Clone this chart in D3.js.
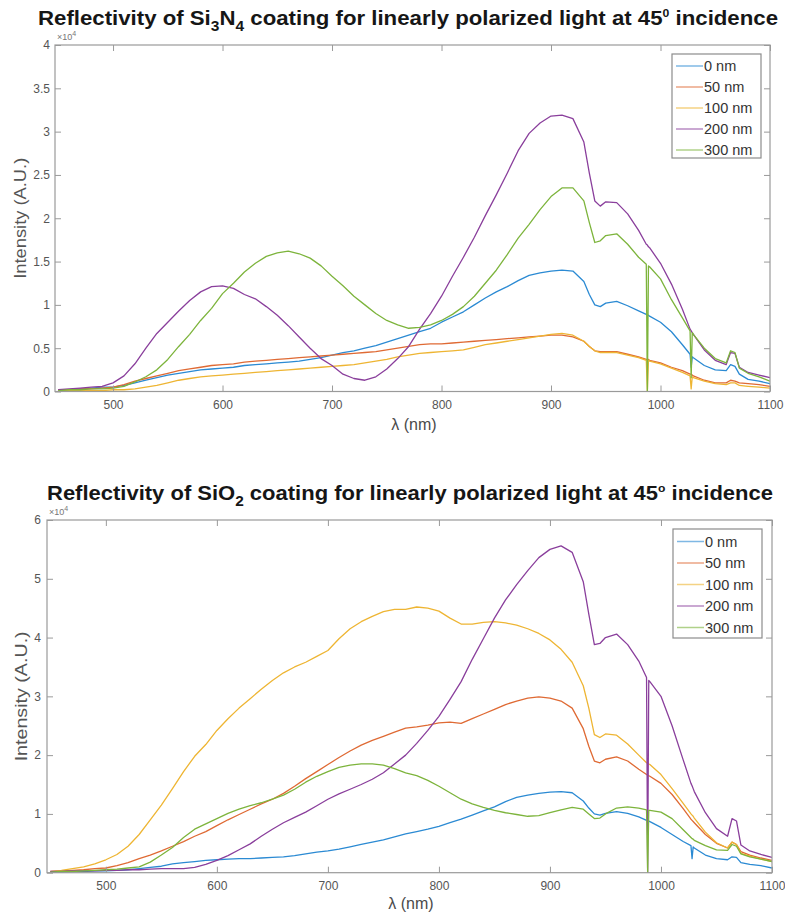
<!DOCTYPE html>
<html><head><meta charset="utf-8">
<script src="https://cdn.jsdelivr.net/npm/d3@7"></script>
<style>body{margin:0;background:#fff;} svg{display:block;font-family:"Liberation Sans",Arial,Helvetica,sans-serif;}</style>
</head><body><svg id="c" width="785" height="922"></svg>
<script>
// ---------- DATA ----------
// shared wavelength grid (nm)
const wavelengths = d3.range(450, 931, 10).concat([935,940,945,950,960,970,980,987,988,989,990,1000,1010,1020,1027,1028,1029,1030,1040,1050,1060,1064,1068,1072,1080,1090,1100]);
const legendLabels = ["0 nm", "50 nm", "100 nm", "200 nm", "300 nm"];
const lineColors = ["#2b8ad3", "#df6a34", "#eeb533", "#8a3f9c", "#7db43c"];
const xTicks = [500, 600, 700, 800, 900, 1000, 1100];
const yTicksTop = [0, 0.5, 1, 1.5, 2, 2.5, 3, 3.5, 4];
const yTicksBottom = [0, 1, 2, 3, 4, 5, 6];

// Si3N4 panel (x10^4)
const si3n4_0nm = [0.02,0.02,0.03,0.04,0.05,0.05,0.07,0.10,0.13,0.16,
 0.19,0.21,0.23,0.25,0.26,0.27,0.28,0.30,0.31,0.32,
 0.33,0.34,0.35,0.37,0.39,0.42,0.45,0.47,0.50,0.53,
 0.57,0.61,0.65,0.69,0.73,0.80,0.86,0.92,1.00,1.08,
 1.15,1.21,1.28,1.34,1.37,1.39,1.40,1.39,1.27,
 1.12,1.00,0.98,1.02,1.04,0.99,0.93,0.89,0.88,0.88,0.87,0.80,0.69,0.54,0.43,0.28,0.40,0.39,0.30,0.25,0.24,0.31,0.29,0.20,0.14,0.12,0.09];
const si3n4_50nm = [0.02,0.02,0.03,0.03,0.04,0.05,0.08,0.12,0.15,0.18,
 0.21,0.24,0.26,0.28,0.30,0.31,0.32,0.34,0.35,0.36,
 0.37,0.38,0.39,0.40,0.41,0.42,0.43,0.44,0.45,0.46,
 0.48,0.50,0.52,0.54,0.55,0.55,0.56,0.57,0.58,0.59,
 0.60,0.61,0.62,0.63,0.64,0.65,0.65,0.63,0.58,
 0.52,0.47,0.46,0.46,0.46,0.43,0.40,0.37,0.37,0.37,0.36,0.33,0.28,0.24,0.20,0.20,0.19,0.18,0.13,0.10,0.10,0.13,0.12,0.10,0.09,0.08,0.06];
const si3n4_100nm = [0.01,0.01,0.01,0.01,0.01,0.02,0.02,0.03,0.05,0.07,
 0.10,0.13,0.15,0.17,0.18,0.19,0.20,0.21,0.22,0.23,
 0.24,0.25,0.26,0.27,0.28,0.29,0.30,0.31,0.33,0.35,
 0.37,0.40,0.42,0.44,0.45,0.46,0.47,0.48,0.51,0.54,
 0.56,0.58,0.60,0.62,0.64,0.66,0.67,0.65,0.58,
 0.52,0.47,0.45,0.45,0.45,0.42,0.39,0.36,0.00,0.36,0.35,0.32,0.27,0.22,0.18,0.03,0.17,0.16,0.12,0.09,0.08,0.10,0.10,0.07,0.06,0.05,0.04];
const si3n4_200nm = [0.02,0.03,0.04,0.05,0.06,0.10,0.18,0.32,0.50,0.67,
 0.80,0.93,1.05,1.15,1.21,1.22,1.19,1.12,1.07,0.98,
 0.88,0.76,0.63,0.50,0.38,0.30,0.20,0.15,0.13,0.17,
 0.26,0.38,0.52,0.72,0.90,1.10,1.33,1.55,1.78,2.03,
 2.27,2.52,2.78,2.98,3.10,3.18,3.19,3.15,2.88,
 2.52,2.20,2.14,2.19,2.18,2.05,1.86,1.70,1.69,1.67,1.66,1.48,1.24,0.95,0.72,0.70,0.68,0.66,0.48,0.36,0.31,0.45,0.44,0.28,0.22,0.19,0.16];
const si3n4_300nm = [0.01,0.02,0.02,0.03,0.03,0.04,0.06,0.11,0.17,0.25,
 0.37,0.52,0.66,0.82,0.96,1.13,1.25,1.38,1.48,1.56,
 1.60,1.62,1.59,1.54,1.45,1.33,1.22,1.10,1.00,0.90,
 0.82,0.77,0.73,0.74,0.77,0.82,0.89,0.98,1.10,1.25,
 1.40,1.58,1.77,1.93,2.10,2.25,2.35,2.35,2.20,
 1.95,1.72,1.74,1.80,1.82,1.70,1.55,1.47,0.00,1.45,1.44,1.30,1.06,0.85,0.70,0.16,0.68,0.66,0.50,0.38,0.33,0.47,0.45,0.27,0.21,0.17,0.12];

// SiO2 panel (x10^4)
const sio2_0nm = [0.01,0.01,0.02,0.02,0.03,0.03,0.04,0.05,0.07,0.09,
 0.11,0.15,0.17,0.19,0.21,0.22,0.23,0.24,0.24,0.25,
 0.26,0.27,0.29,0.32,0.35,0.37,0.40,0.44,0.48,0.52,
 0.56,0.61,0.66,0.70,0.74,0.79,0.85,0.91,0.98,1.05,
 1.12,1.21,1.28,1.32,1.35,1.37,1.38,1.36,1.22,
 1.10,1.00,0.98,1.01,1.04,1.01,0.95,0.89,0.88,0.88,0.87,0.77,0.65,0.53,0.46,0.24,0.44,0.42,0.30,0.24,0.22,0.27,0.26,0.17,0.14,0.12,0.08];
const sio2_50nm = [0.02,0.03,0.04,0.05,0.07,0.08,0.12,0.17,0.24,0.30,
 0.37,0.45,0.53,0.62,0.70,0.80,0.90,0.99,1.08,1.17,
 1.25,1.35,1.47,1.60,1.72,1.84,1.96,2.07,2.17,2.25,
 2.32,2.39,2.46,2.48,2.51,2.55,2.56,2.54,2.62,2.70,
 2.78,2.86,2.92,2.97,2.99,2.97,2.92,2.80,2.45,
 2.15,1.90,1.87,1.93,1.97,1.90,1.76,1.67,1.66,1.65,1.64,1.52,1.33,1.09,0.91,0.89,0.87,0.85,0.65,0.50,0.42,0.52,0.48,0.36,0.30,0.25,0.21];
const sio2_100nm = [0.02,0.04,0.07,0.10,0.15,0.22,0.31,0.45,0.65,0.90,
 1.15,1.43,1.72,1.98,2.18,2.42,2.62,2.80,2.96,3.12,
 3.27,3.40,3.50,3.58,3.68,3.78,3.98,4.15,4.27,4.36,
 4.44,4.48,4.48,4.52,4.50,4.45,4.33,4.23,4.23,4.26,
 4.27,4.25,4.21,4.15,4.07,3.96,3.80,3.58,3.18,
 2.80,2.35,2.30,2.36,2.34,2.19,2.00,1.87,1.86,1.85,1.84,1.67,1.43,1.18,1.00,0.98,0.96,0.93,0.69,0.51,0.42,0.52,0.48,0.33,0.28,0.23,0.19];
const sio2_200nm = [0.02,0.02,0.03,0.03,0.03,0.04,0.04,0.05,0.05,0.06,
 0.07,0.07,0.07,0.09,0.14,0.21,0.29,0.39,0.49,0.62,
 0.74,0.85,0.94,1.03,1.14,1.25,1.34,1.42,1.50,1.59,
 1.70,1.85,2.00,2.20,2.42,2.66,2.95,3.25,3.63,3.98,
 4.33,4.64,4.90,5.14,5.36,5.50,5.56,5.45,4.95,
 4.40,3.88,3.90,4.00,4.06,3.88,3.60,3.32,0.00,3.27,3.25,3.00,2.50,1.92,1.52,1.48,1.43,1.38,1.02,0.75,0.62,0.92,0.88,0.47,0.37,0.31,0.26];
const sio2_300nm = [0.01,0.02,0.02,0.03,0.04,0.05,0.06,0.08,0.10,0.18,
 0.30,0.43,0.60,0.74,0.83,0.92,1.01,1.08,1.14,1.19,
 1.25,1.32,1.42,1.54,1.64,1.72,1.79,1.83,1.85,1.85,
 1.83,1.77,1.70,1.65,1.57,1.47,1.36,1.25,1.17,1.11,
 1.06,1.02,0.99,0.96,0.97,1.02,1.07,1.11,1.08,
 1.00,0.92,0.93,1.00,1.10,1.12,1.10,1.07,0.00,1.06,1.06,1.03,0.92,0.73,0.60,0.58,0.57,0.55,0.46,0.39,0.38,0.48,0.45,0.32,0.27,0.23,0.19];

// ---------- DRAW ----------
const svg = d3.select("#c");
const axisColor = "#9a9a9a", textColor = "#4a4a4a";

function drawPanel(p) {
  const x = d3.scaleLinear().domain([447, 1100]).range([p.left, p.right]);
  const y = d3.scaleLinear().domain([0, p.yMax]).range([p.bottom, p.top]);
  const g = svg.append("g");

  // title
  const t = g.append("text").attr("x", (p.tx1 + p.tx2) / 2).attr("y", p.ty)
    .attr("text-anchor", "middle").attr("font-size", 20).attr("font-weight", "bold")
    .attr("fill", "#161616").attr("textLength", p.tx2 - p.tx1).attr("lengthAdjust", "spacingAndGlyphs");
  p.title.forEach(part => {
    const ts = t.append("tspan").text(part.s);
    if (part.sub) ts.attr("font-size", 14).attr("dy", 6);
    else if (part.sup) ts.attr("font-size", 11).attr("dy", -8);
    if (part.dy) ts.attr("dy", part.dy);
  });

  // clip
  const cid = "clip" + p.id;
  g.append("clipPath").attr("id", cid).append("rect")
    .attr("x", p.left).attr("y", p.top).attr("width", p.right - p.left).attr("height", p.bottom - p.top);

  // lines
  const line = d3.line().x((d, i) => x(wavelengths[i])).y(d => y(d));
  const lg = g.append("g").attr("clip-path", `url(#${cid})`);
  p.series.forEach((s, k) => {
    lg.append("path").datum(s).attr("d", line).attr("fill", "none")
      .attr("stroke", lineColors[k]).attr("stroke-width", 1.3).attr("stroke-linejoin", "round");
  });

  // axes
  const fmt = d => String(d);
  const ax = [
    g.append("g").attr("transform", `translate(0,${p.bottom})`).call(d3.axisBottom(x).tickValues(xTicks).tickFormat(fmt).tickSizeInner(-6).tickSizeOuter(0).tickPadding(9)),
    g.append("g").attr("transform", `translate(0,${p.top})`).call(d3.axisTop(x).tickValues(xTicks).tickFormat("").tickSizeInner(-6).tickSizeOuter(0)),
    g.append("g").attr("transform", `translate(${p.left},0)`).call(d3.axisLeft(y).tickValues(p.yTicks).tickFormat(fmt).tickSizeInner(-6).tickSizeOuter(0).tickPadding(p.ypad)),
    g.append("g").attr("transform", `translate(${p.right},0)`).call(d3.axisRight(y).tickValues(p.yTicks).tickFormat("").tickSizeInner(-6).tickSizeOuter(0))
  ];
  ax.forEach(a => {
    a.select(".domain").remove();
    a.selectAll("line").attr("stroke", axisColor);
    a.selectAll("text").attr("fill", "#555").attr("font-size", 12);
  });
  g.append("rect").attr("x", p.left).attr("y", p.top).attr("width", p.right - p.left).attr("height", p.bottom - p.top)
    .attr("fill", "none").attr("stroke", axisColor).attr("stroke-width", 1.2);

  // exponent label
  const ex = g.append("text").attr("x", p.left + 2).attr("y", p.top - 5).attr("font-size", 9).attr("fill", "#777");
  ex.append("tspan").text("×10");
  ex.append("tspan").text("4").attr("font-size", 7).attr("dy", -4);

  // axis labels
  g.append("text").attr("transform", `translate(${p.ylx},${(p.top + p.bottom) / 2}) rotate(-90)`)
    .attr("text-anchor", "middle").attr("font-size", 16).attr("fill", "#555")
    .attr("textLength", p.ylLen).attr("lengthAdjust", "spacingAndGlyphs").text("Intensity (A.U.)");
  g.append("text").attr("x", p.xlx).attr("y", p.xly).attr("text-anchor", "middle")
    .attr("font-size", 16).attr("fill", textColor).text("λ (nm)");

  // legend
  const L = p.legend;
  g.append("rect").attr("x", L.x1).attr("y", L.y1).attr("width", L.x2 - L.x1).attr("height", L.y2 - L.y1)
    .attr("fill", "#fff").attr("stroke", "#8c8c8c").attr("stroke-width", 1.2);
  legendLabels.forEach((lab, k) => {
    const yy = L.y1 + L.first + k * L.step;
    g.append("line").attr("x1", L.x1 + 4).attr("x2", L.x1 + 31).attr("y1", yy).attr("y2", yy)
      .attr("stroke", lineColors[k]).attr("stroke-width", 1.5).attr("opacity", 0.6);
    g.append("text").attr("x", L.x1 + 32).attr("y", yy + 5).attr("font-size", 14.5).attr("fill", "#333").text(lab);
  });
}

drawPanel({
  id: "top", left: 55, right: 770, top: 45, bottom: 391.5, yMax: 4, yTicks: yTicksTop, ypad: 5,
  series: [si3n4_0nm, si3n4_50nm, si3n4_100nm, si3n4_200nm, si3n4_300nm],
  title: [{s: "Reflectivity of Si"}, {s: "3", sub: true}, {s: "N", dy: -6}, {s: "4", sub: true},
          {s: " coating for linearly polarized light at 45", dy: -6}, {s: "0", sup: true}, {s: " incidence", dy: 8}],
  tx1: 38, tx2: 778, ty: 25,
  ylx: 26, ylLen: 121, xlx: 414, xly: 430,
  legend: {x1: 672, x2: 761, y1: 54, y2: 158, first: 12, step: 21}
});

drawPanel({
  id: "bot", left: 47, right: 772, top: 520, bottom: 872.7, yMax: 6, yTicks: yTicksBottom, ypad: 6,
  series: [sio2_0nm, sio2_50nm, sio2_100nm, sio2_200nm, sio2_300nm],
  title: [{s: "Reflectivity of SiO"}, {s: "2", sub: true},
          {s: " coating for linearly polarized light at 45", dy: -6}, {s: "o", sup: true}, {s: " incidence", dy: 8}],
  tx1: 47, tx2: 773, ty: 500,
  ylx: 27, ylLen: 130, xlx: 411, xly: 909,
  legend: {x1: 673, x2: 762, y1: 529, y2: 638, first: 12.5, step: 21.5}
});
</script>
</body></html>
